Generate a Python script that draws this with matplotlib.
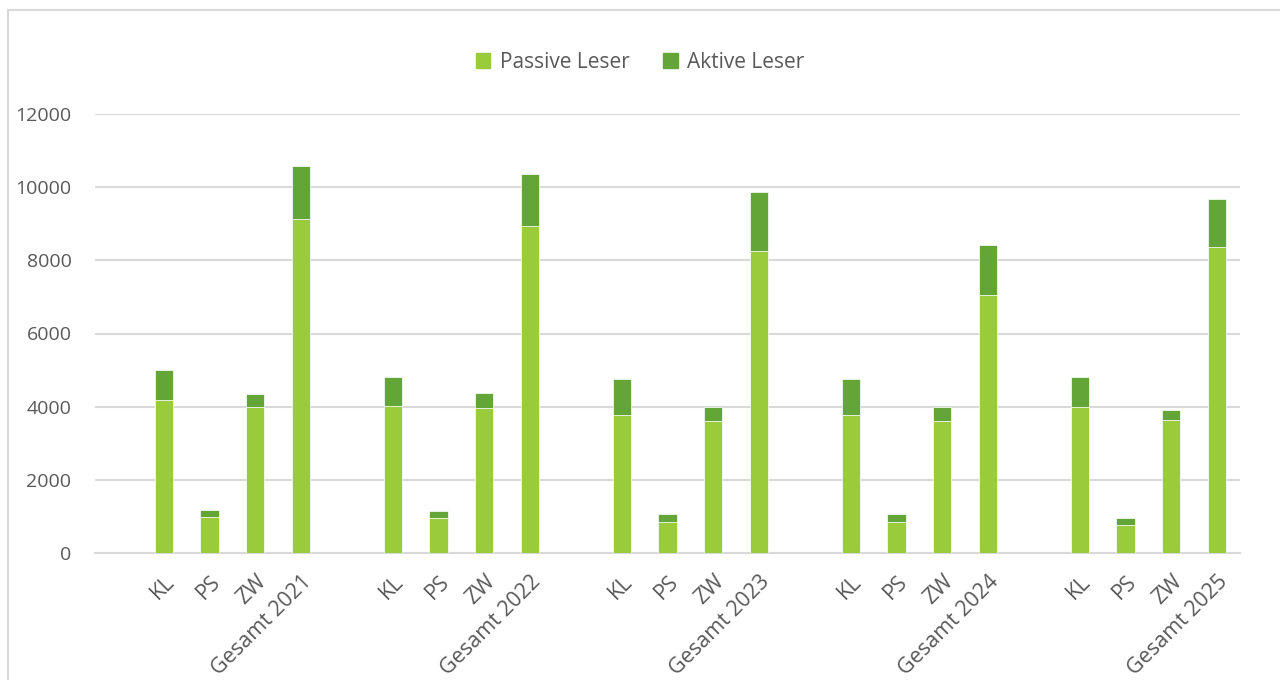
import matplotlib.pyplot as plt
import matplotlib.patches as mpatches

# categories incl. empty spacer slots between the years
categories = ["", "KL", "PS", "ZW", "Gesamt 2021",
              "", "KL", "PS", "ZW", "Gesamt 2022",
              "", "KL", "PS", "ZW", "Gesamt 2023",
              "", "KL", "PS", "ZW", "Gesamt 2024",
              "", "KL", "PS", "ZW", "Gesamt 2025"]

passive = [0, 4170, 975, 3980, 9135,
           0, 4015, 960, 3970, 8950,
           0, 3770, 860, 3615, 8255,
           0, 3770, 860, 3615, 7055,
           0, 3980, 760, 3630, 8365]

aktive = [0, 840, 210, 355, 1440,
          0, 800, 200, 390, 1415,
          0, 995, 210, 380, 1615,
          0, 995, 215, 380, 1375,
          0, 820, 190, 285, 1325]

C_PASSIVE = "#9ACB3A"
C_AKTIVE = "#63A537"
TXT = "#595959"
GRID = "#D9D9D9"

plt.rcParams["font.family"] = ["Open Sans", "DejaVu Sans"]

fig = plt.figure(figsize=(12.8, 6.8), dpi=100)
ax = fig.add_axes([95 / 1280, 127 / 680, 1145 / 1280, 439 / 680])

x = list(range(len(categories)))
ax.bar(x, passive, width=0.4, color=C_PASSIVE, edgecolor="white", linewidth=0.5,
       label="Passive Leser", zorder=3)
ax.bar(x, aktive, width=0.4, bottom=passive, color=C_AKTIVE, edgecolor="white",
       linewidth=0.5, label="Aktive Leser", zorder=3)

ax.set_xlim(-0.5, len(categories) - 0.5)
ax.set_ylim(0, 12000)
ax.set_yticks(range(0, 12001, 2000))
ax.yaxis.grid(True, color=GRID, linewidth=1.5, zorder=0)
ax.set_axisbelow(True)
for s in ["top", "right", "left"]:
    ax.spines[s].set_visible(False)
ax.spines["bottom"].set_color(GRID)
ax.spines["bottom"].set_linewidth(1.5)

ax.set_xticks(x)
ax.set_xticklabels(categories, rotation=45, ha="right", rotation_mode="anchor")
ax.tick_params(axis="x", length=0, pad=13, labelsize=15.5, labelcolor=TXT)
ax.tick_params(axis="y", length=0, pad=17, labelsize=14, labelcolor=TXT)

handles = [mpatches.Patch(color=C_PASSIVE, label="Passive Leser"),
           mpatches.Patch(color=C_AKTIVE, label="Aktive Leser")]
fig.legend(handles=handles, loc="center", bbox_to_anchor=(0.5, 1 - 62 / 680), ncol=2,
           frameon=False, fontsize=15, labelcolor=TXT, handlelength=0.7,
           handleheight=0.7, handletextpad=0.45, columnspacing=1.6)

# outer chart border (Excel style)
fig.patches.append(mpatches.Rectangle((8 / 1280, -0.1), 1.2, 0.1 + 1 - 10 / 680,
                                      transform=fig.transFigure, fill=False,
                                      edgecolor=GRID, linewidth=1.5, clip_on=False))

fig.savefig("out.png", dpi=100)
